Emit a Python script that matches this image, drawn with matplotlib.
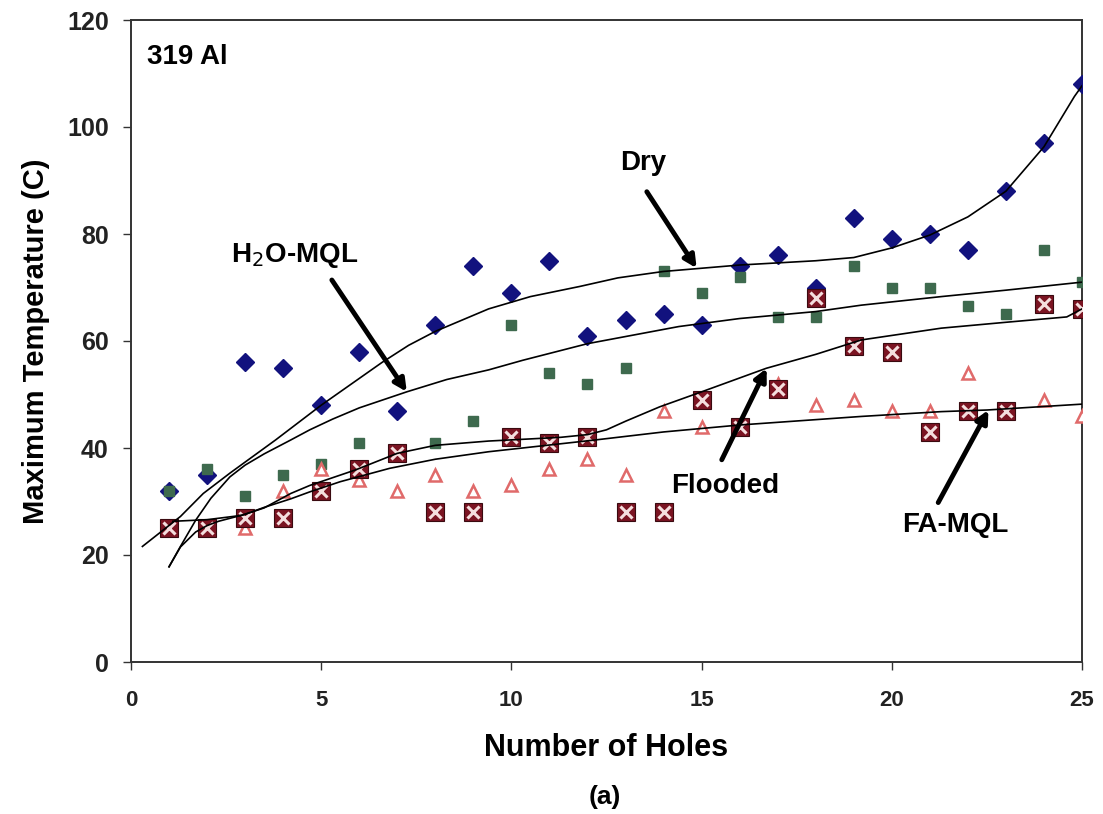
import matplotlib
matplotlib.use("Agg")
import matplotlib.pyplot as plt
import numpy as np

# measured points, one per hole
holes = np.arange(1, 26)
dry = [32, 35, 56, 55, 48, 58, 47, 63, 74, 69, 75, 61, 64, 65, 63, 74, 76, 70, 83, 79, 80, 77, 88, 97, 108]
h2o_mql = [32, 36, 31, 35, 37, 41, 39, 41, 45, 63, 54, 52, 55, 73, 69, 72, 64.5, 64.5, 74, 70, 70, 66.5, 65, 77, 71]
fa_mql = [25, 25, 25, 32, 36, 34, 32, 35, 32, 33, 36, 38, 35, 47, 44, 44, 52, 48, 49, 47, 47, 54, 47, 49, 46]
flooded = [25, 25, 27, 27, 32, 36, 39, 28, 28, 42, 41, 42, 28, 28, 49, 44, 51, 68, 59, 58, 43, 47, 47, 67, 66]

# trend lines
dry_fit_x = [0.3, 1.3, 1.9, 2.6, 3.8, 5, 6.6, 7.3, 8, 9.4, 10.5, 11.8, 12.8, 14, 15, 16, 17, 18, 19, 20, 21, 22, 23, 24, 24.8, 25]
dry_fit_y = [21.6, 27.2, 31.5, 35.3, 41.5, 48, 56, 59.2, 61.8, 66, 68.3, 70.2, 71.8, 73, 73.6, 74.2, 74.6, 75, 75.6, 77.4, 79.8, 83.2, 88, 96.3, 105.7, 107.7]
h2o_fit_x = [1, 1.3, 1.7, 2.1, 2.6, 3.0, 3.5, 4.2, 4.7, 5.3, 6, 7.25, 8.3, 9.4, 10.3, 12, 14.4, 16, 18, 19.2, 21.3, 23, 25]
h2o_fit_y = [17.8, 21.6, 26.5, 30.6, 34.6, 36.8, 38.9, 41.5, 43.4, 45.4, 47.5, 50.5, 52.8, 54.6, 56.4, 59.5, 62.7, 64.2, 65.5, 66.7, 68.3, 69.5, 71]
flooded_fit_x = [1.1, 2, 2.9, 3.5, 4.2, 4.7, 5.9, 7, 8, 9.4, 10.5, 11.3, 12, 12.5, 13, 13.9, 15, 16.7, 18, 19.2, 21.3, 23, 24.6, 25]
flooded_fit_y = [26.3, 26.6, 27.4, 28.8, 31.5, 33, 35.9, 39.0, 40.5, 41.3, 41.7, 42.0, 42.5, 43.4, 45, 47.7, 50.5, 54.9, 57.5, 60.2, 62.4, 63.5, 64.5, 66]
fa_fit_x = [1, 1.3, 1.7, 2.0, 2.3, 3, 3.5, 4.2, 4.7, 5.5, 6.8, 8, 9.4, 12.2, 14, 16, 19.2, 21.3, 22.5, 25]
fa_fit_y = [17.8, 21.5, 24.3, 25.5, 26.3, 27.6, 28.9, 30.5, 31.8, 33.7, 36.2, 37.9, 39.3, 41.5, 43, 44.3, 45.9, 46.8, 47.1, 48.2]

plt.rcParams['font.family'] = ['Liberation Sans', 'DejaVu Sans']

fig = plt.figure(figsize=(11.03, 8.14), dpi=100)
ax = fig.add_axes([131/1103, 1 - 662/814, 951/1103, 642/814])

# markers (Excel order: dry, H2O, FA, flooded)
ax.plot(holes, dry, 'D', color='#12127e', ms=9, mec='#12127e', ls='none', zorder=3)
ax.plot(holes, h2o_mql, 's', color='#3e6a4e', ms=7.5, mec='#3e6a4e', ls='none', zorder=3)
ax.plot(holes, fa_mql, '^', mfc='white', mec='#e06a6a', mew=1.8, ms=9, ls='none', zorder=3)
ax.plot(holes, flooded, 's', color='#7b1422', mec='#3a0a10', mew=0.8, ms=13.5, ls='none', zorder=3)
ax.plot(holes, flooded, 'x', color='#f4dede', mew=2.2, ms=9, ls='none', zorder=3)

# trend lines
for fx, fy in [(dry_fit_x, dry_fit_y), (h2o_fit_x, h2o_fit_y),
               (flooded_fit_x, flooded_fit_y), (fa_fit_x, fa_fit_y)]:
    ax.plot(fx, fy, '-', color='black', lw=1.2, zorder=4)

ax.set_xlim(0, 25)
ax.set_ylim(0, 120)
ax.set_xticks(range(0, 26, 5))
ax.set_yticks(range(0, 121, 20))
for s in ax.spines.values():
    s.set_color('#333333')
    s.set_linewidth(1.4)
ax.tick_params(direction='out', length=6, width=1, color='#333333')
ax.tick_params(axis='y', pad=10)
ax.tick_params(axis='x', pad=14)
for lab in ax.get_yticklabels():
    lab.set_fontsize(18)
    lab.set_fontweight('bold')
    lab.set_color('#222222')
for lab in ax.get_xticklabels():
    lab.set_fontsize(16)
    lab.set_fontweight('bold')
    lab.set_color('#222222')

ax.set_ylabel('Maximum Temperature (C)', fontsize=21, fontweight='bold', labelpad=12)
ax.set_xlabel('Number of Holes', fontsize=22, fontweight='bold', labelpad=16)
fig.text(605/1103, 1 - 797/814, '(a)', fontsize=19, fontweight='bold',
         ha='center', va='center')

ax.text(0.42, 113, '319 Al', fontsize=20, fontweight='bold', ha='left', va='center')

arrow = dict(arrowstyle='-|>', lw=3.5, color='black', mutation_scale=18, shrinkA=0, shrinkB=0)
ax.text(4.31, 75.9, 'H$_2$O-MQL', fontsize=20, fontweight='bold', ha='center', va='center')
ax.annotate('', xy=(7.25, 50.5), xytext=(5.28, 71.4), arrowprops=arrow)
ax.text(13.46, 93.3, 'Dry', fontsize=20, fontweight='bold', ha='center', va='center')
ax.annotate('', xy=(14.87, 73.6), xytext=(13.56, 87.9), arrowprops=arrow)
ax.text(15.62, 32.9, 'Flooded', fontsize=20, fontweight='bold', ha='center', va='center')
ax.annotate('', xy=(16.71, 54.9), xytext=(15.53, 37.8), arrowprops=arrow)
ax.text(21.66, 25.6, 'FA-MQL', fontsize=20, fontweight='bold', ha='center', va='center')
ax.annotate('', xy=(22.54, 47.1), xytext=(21.22, 29.8), arrowprops=arrow)

fig.savefig('out.png', dpi=100)
